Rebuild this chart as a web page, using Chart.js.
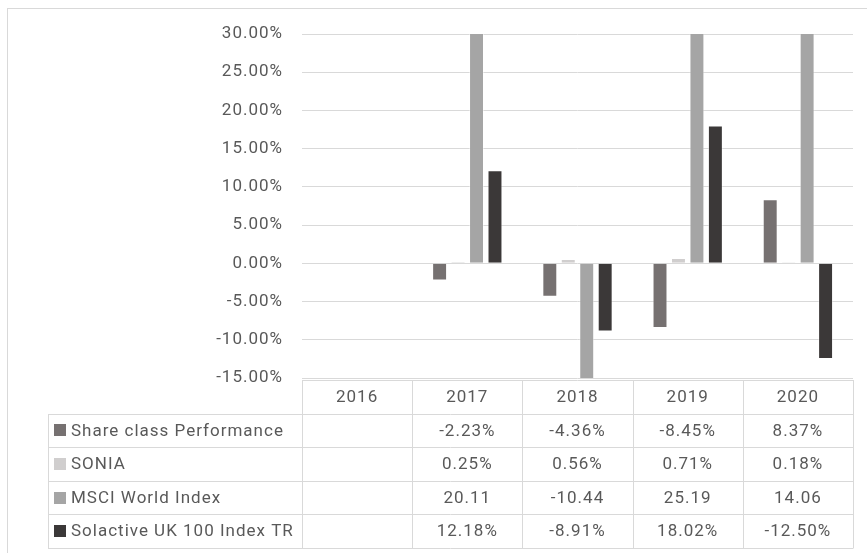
<!DOCTYPE html>
<html>
<head>
<meta charset="utf-8">
<script src="https://cdn.jsdelivr.net/npm/chart.js@4.4.1/dist/chart.umd.min.js"></script>
<style>
  html, body { margin: 0; padding: 0; background: #fff; }
  #wrap { width: 867px; height: 553px; }
</style>
</head>
<body>
<div id="wrap"><canvas id="myChart" width="867" height="553"></canvas></div>
<script>
// Categories and series (fractions, as in the source sheet)
const years = ['2016', '2017', '2018', '2019', '2020'];
const shareClass = [null, -0.0223, -0.0436, -0.0845, 0.0837];
const sonia = [null, 0.0025, 0.0056, 0.0071, 0.0018];
const msciWorld = [null, 20.11, -10.44, 25.19, 14.06];
const solactive = [null, 0.1218, -0.0891, 0.1802, -0.1250];

const yMin = -0.15;
const yMax = 0.30;
const yStep = 0.05;

const textColor = '#595959';
const lineColor = '#d9d9d9';
const fontFamily = 'Roboto, "Liberation Sans", sans-serif';

const series = [
    { label: 'Share class Performance', data: shareClass, color: '#767171', pct: true },
    { label: 'SONIA', data: sonia, color: '#d0cece', pct: true },
    { label: 'MSCI World Index', data: msciWorld, color: '#a5a5a5', pct: false },
    { label: 'Solactive UK 100 Index TR', data: solactive, color: '#3b3838', pct: true }
];

function cellText(s, v) {
    if (v === null) return '';
    return s.pct ? (v * 100).toFixed(2) + '%' : v.toFixed(2);
}

// Outer frame + data table under the plot
const dataTable = {
    id: 'dataTable',
    beforeDraw(chart) {
        const ctx = chart.ctx;
        // slightly spaced text, like the Excel export
        ctx.letterSpacing = '1px';
        ctx.save();
        ctx.strokeStyle = lineColor;
        ctx.lineWidth = 1;
        ctx.strokeRect(7.5, 8.5, 900, 600);
        ctx.restore();
    },
    afterDraw(chart) {
        const ctx = chart.ctx;
        const xs = chart.scales.x;
        const area = chart.chartArea;
        const colW = (xs.right - xs.left) / years.length;
        const top = Math.round(area.bottom) + 2;
        const rowH = 33.6;
        const legendLeft = 48;
        const nRows = series.length + 1;
        const bottom = top + rowH * nRows;

        ctx.save();
        ctx.strokeStyle = lineColor;
        ctx.lineWidth = 1;
        ctx.beginPath();
        // horizontal lines
        ctx.moveTo(xs.left, top + 0.5);
        ctx.lineTo(xs.right, top + 0.5);
        for (let r = 1; r <= nRows; r++) {
            const y = Math.round(top + rowH * r) + 0.5;
            ctx.moveTo(legendLeft, y);
            ctx.lineTo(xs.right, y);
        }
        // vertical lines
        ctx.moveTo(legendLeft + 0.5, Math.round(top + rowH) + 0.5);
        ctx.lineTo(legendLeft + 0.5, Math.round(bottom) + 0.5);
        for (let c = 0; c <= years.length; c++) {
            const x = Math.round(xs.left + colW * c) + 0.5;
            ctx.moveTo(x, top);
            ctx.lineTo(x, Math.round(bottom) + 0.5);
        }
        ctx.stroke();

        ctx.font = '17px ' + fontFamily;
        ctx.letterSpacing = '1px';
        ctx.fillStyle = textColor;
        ctx.textBaseline = 'middle';
        ctx.textAlign = 'center';
        years.forEach((yr, i) => {
            ctx.fillText(yr, xs.getPixelForValue(i), top + rowH / 2 + 1);
        });

        series.forEach((s, r) => {
            const cy = top + rowH * (r + 1) + rowH / 2 + 1;
            ctx.fillStyle = s.color;
            ctx.fillRect(54, Math.round(cy - 7), 12, 12);
            ctx.fillStyle = textColor;
            ctx.textAlign = 'left';
            ctx.fillText(s.label, 71, cy);
            ctx.textAlign = 'center';
            s.data.forEach((v, i) => {
                ctx.fillText(cellText(s, v), xs.getPixelForValue(i), cy);
            });
        });
        ctx.restore();
    }
};

const ctx = document.getElementById('myChart').getContext('2d');

const chart = new Chart(ctx, {
    type: 'bar',
    data: {
        labels: years,
        datasets: series.map(s => ({
            label: s.label,
            data: s.data,
            backgroundColor: s.color,
            borderColor: 'rgba(255,255,255,0.4)',
            borderWidth: 1,
            barPercentage: 0.81,
            categoryPercentage: 0.67
        }))
    },
    options: {
        responsive: false,
        animation: false,
        layout: { padding: { left: 0, right: 14, top: 34, bottom: 175 } },
        plugins: {
            legend: { display: false },
            tooltip: { enabled: false }
        },
        scales: {
            x: { display: false },
            y: {
                min: yMin,
                max: yMax,
                afterFit: (scale) => { scale.width = 302; },
                ticks: {
                    stepSize: yStep,
                    padding: 19,
                    color: textColor,
                    font: { family: fontFamily, size: 17 },
                    callback: (v) => (Math.round(v * 10000) / 100).toFixed(2) + '%'
                },
                grid: { color: lineColor, lineWidth: 1, drawTicks: false },
                border: { display: false }
            }
        }
    },
    plugins: [dataTable]
});
</script>
</body>
</html>
